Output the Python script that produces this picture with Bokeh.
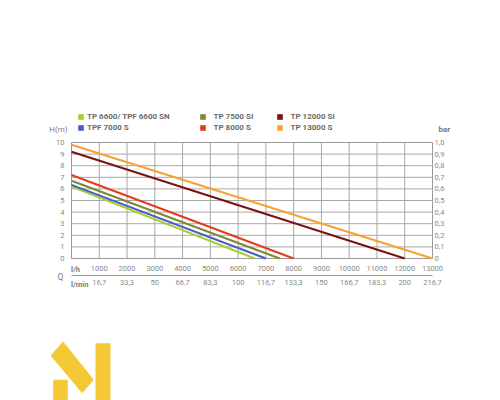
from bokeh.plotting import figure
from bokeh.models import (Range1d, LinearAxis, FixedTicker, Label, Legend, LegendItem)
from bokeh.embed import file_html
from bokeh.resources import INLINE

# ---- data ----
models = ["TP 6600/ TPF 6600 SN", "TPF 7000 S", "TP 7500 SI", "TP 8000 S",
          "TP 12000 SI", "TP 13000 S"]
head_at_zero = [6.2, 6.35, 6.7, 7.2, 9.2, 9.8]      # H (m) at Q = 0
max_flow = [6600, 7000, 7500, 8000, 12000, 13000]   # Q (l/h) at H = 0
flow_ticks = [1000, 2000, 3000, 4000, 5000, 6000, 7000, 8000, 9000,
              10000, 11000, 12000, 13000]
flow_lmin = ["16,7", "33,3", "50", "66,7", "83,3", "100", "116,7", "133,3",
             "150", "166,7", "183,3", "200", "216,7"]
head_ticks = [0, 1, 2, 3, 4, 5, 6, 7, 8, 9, 10]
bar_labels = ["0", "0,1", "0,2", "0,3", "0,4", "0,5", "0,6", "0,7", "0,8",
              "0,9", "1,0"]

colors = ["#a3cf2c", "#4a5cc6", "#7c8a2f", "#e63a1e", "#7b1111", "#f6a233"]

# ---- geometry (page px of the chart box) ----
W, H = 500, 400
PL, PR, PT, PB = 71, 432, 142, 258
QMAX, HMAX = 13000, 10


def dx(px):
    return (px - PL) / (PR - PL) * QMAX


def dy(py):
    return (PB - py) / (PB - PT) * HMAX


FONT = "Roboto"
TICK_COLOR = "#8a8a8a"
GRID_COLOR = "#a8a8a8"

p = figure(width=W, height=H, x_range=Range1d(dx(0), dx(W)), y_range=Range1d(dy(H), dy(0)),
           output_backend="svg", toolbar_location=None,
           x_axis_type=None, y_axis_type=None,
           min_border=0, min_border_left=0, min_border_right=0,
           min_border_top=0, min_border_bottom=0)
p.outline_line_color = None
p.background_fill_color = "white"
p.border_fill_color = "white"

# grid lines and chart box
inner_q = flow_ticks[:-1]
inner_h = head_ticks[1:-1]
p.segment(x0=inner_q, x1=inner_q, y0=[0] * len(inner_q), y1=[HMAX] * len(inner_q),
          line_color=GRID_COLOR, line_width=1)
p.segment(x0=[0] * len(inner_h), x1=[QMAX] * len(inner_h), y0=inner_h, y1=inner_h,
          line_color=GRID_COLOR, line_width=1)
p.quad(left=[0], right=[QMAX], bottom=[0], top=[HMAX], fill_color=None,
       line_color="#999999", line_width=1)

# curves
for m, h0, q, c in zip(models, head_at_zero, max_flow, colors):
    p.line([0, q], [h0, 0], line_color=c, line_width=2)

# legend proxies (square swatches; zero-size so nothing shows in the chart)
proxies = [p.quad(left=[0], right=[0], top=[0], bottom=[0], fill_color=c, line_color=None)
           for c in colors]

leg_cols = [((0, 1), 77, 3), ((2, 3), 198.5, 8), ((4, 5), 275.5, 8)]
for idx, px, stand in leg_cols:
    leg = Legend(items=[LegendItem(label=models[i], renderers=[proxies[i]]) for i in idx],
                 location=(px, H - 133), orientation="vertical",
                 glyph_width=7, glyph_height=7, label_standoff=stand,
                 label_height=11, label_width=10, spacing=0, padding=0, margin=0,
                 border_line_color=None, background_fill_alpha=0,
                 label_text_font=FONT, label_text_font_size="8px",
                 label_text_font_style="bold", label_text_color="#6a6a6a")
    p.add_layout(leg)

# axes (fixed at the chart box edges)
axis_style = dict(major_tick_line_color=None, minor_tick_line_color=None,
                  major_tick_out=0, major_tick_in=0, minor_tick_out=0, minor_tick_in=0,
                  major_label_text_font=FONT, major_label_text_font_size="7.5px",
                  major_label_text_color=TICK_COLOR)
yl = LinearAxis(ticker=FixedTicker(ticks=head_ticks), axis_line_color=None,
                fixed_location=0, bounds=(0, HMAX),
                major_label_standoff=7, **axis_style)
p.add_layout(yl, "left")
yr = LinearAxis(ticker=FixedTicker(ticks=head_ticks), axis_line_color=None,
                fixed_location=QMAX, bounds=(0, HMAX),
                major_label_overrides={t: s for t, s in zip(head_ticks, bar_labels)},
                major_label_standoff=2, **axis_style)
p.add_layout(yr, "right")
xb1 = LinearAxis(ticker=FixedTicker(ticks=flow_ticks), axis_line_color=None,
                 fixed_location=0, bounds=(0, QMAX),
                 major_label_standoff=7, **axis_style)
p.add_layout(xb1, "below")
xb2 = LinearAxis(ticker=FixedTicker(ticks=flow_ticks), axis_line_color="#999999",
                 fixed_location=dy(275), bounds=(0, QMAX),
                 major_label_overrides={t: s for t, s in zip(flow_ticks, flow_lmin)},
                 major_label_standoff=4, **axis_style)
p.add_layout(xb2, "below")


# text labels
def lab(text, px, py, align="center", bold=False, size="8px", color="#7a7a7a"):
    p.add_layout(Label(x=dx(px), y=dy(py), text=text, text_align=align,
                       text_baseline="middle", text_font=FONT, text_font_size=size,
                       text_font_style="bold" if bold else "normal",
                       text_color=color))


lab("H(m)", 67, 128.5, align="right")
lab("bar", 438, 128.5, align="left", bold=True)
lab("Q", 60, 276, size="8.5px")
lab("l/h", 70.5, 269, align="left", bold=True, size="7.5px")
lab("l/min", 70.5, 283.5, align="left", bold=True, size="7.5px")

# logo
LOGO = "#f5c935"
logo_shapes = [
    [(95, 342.7), (110, 342.7), (110, 400), (95, 400)],
    [(52.7, 379.3), (67.3, 379.3), (67.3, 400), (52.7, 400)],
    [(50, 355), (62.7, 341), (93.3, 379.3), (81.7, 392.7)],
]
p.patches(xs=[[dx(a) for a, b in s] for s in logo_shapes],
          ys=[[dy(b) for a, b in s] for s in logo_shapes],
          fill_color=LOGO, line_color=None)

open("out.html", "w").write(file_html(p, INLINE))
